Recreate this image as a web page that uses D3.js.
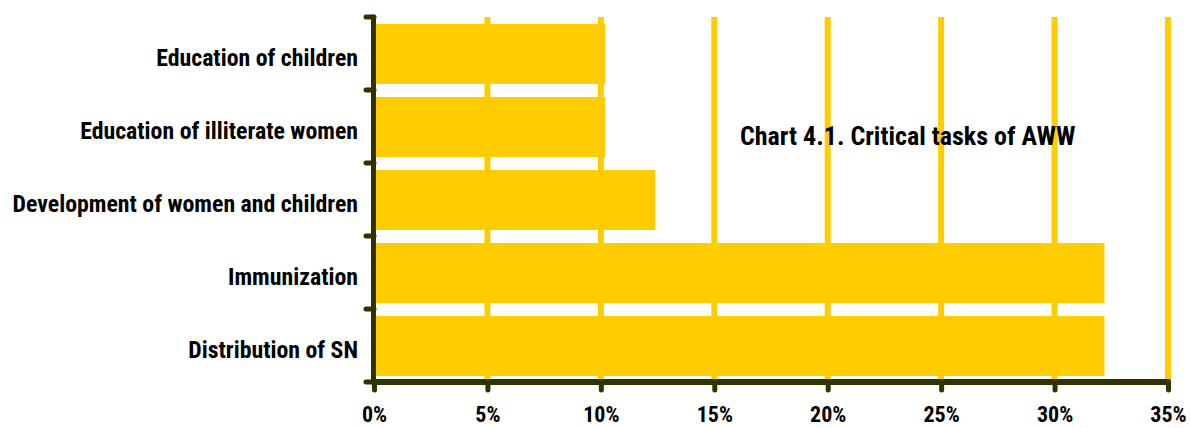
<!DOCTYPE html>
<html><head><meta charset="utf-8">
<script src="https://cdn.jsdelivr.net/npm/d3@7"></script>
<style>body{margin:0;background:#fff}svg{display:block}text{font-family:"Roboto Condensed","Liberation Sans Narrow",sans-serif;font-weight:bold;fill:#000}</style>
</head><body><svg id="c" width="1190" height="428"></svg>
<script>
const categories = ["Education of children","Education of illiterate women","Development of women and children","Immunization","Distribution of SN"];
const values = [10.2, 10.2, 12.4, 32.2, 32.2];
const tickValues = [0,5,10,15,20,25,30,35];
const title = "Chart 4.1. Critical tasks of AWW";

const svg = d3.select("#c");
const x = d3.scaleLinear().domain([0,35]).range([374,1168]);
const yb = d3.scaleBand().domain(categories).range([17,382]);
const axisColor = "#333300", barColor = "#FFCC00";

// gridlines
svg.append("g").selectAll("line").data(tickValues.slice(1)).join("line")
  .attr("x1",d=>x(d)).attr("x2",d=>x(d)).attr("y1",17).attr("y2",382)
  .attr("stroke",barColor).attr("stroke-width",6);

// bars
svg.append("g").selectAll("rect").data(values).join("rect")
  .attr("x",x(0)).attr("y",(d,i)=>yb(categories[i])+7).attr("height",60)
  .attr("width",d=>x(d)-x(0)).attr("fill",barColor);

// axes
const xAxis = d3.axisBottom(x).tickValues(tickValues).tickFormat(d=>d+"%").tickSize(8).tickPadding(0);
const gx = svg.append("g").attr("transform","translate(0,382)").call(xAxis);
gx.select(".domain").remove();
gx.selectAll(".tick line").attr("stroke",axisColor).attr("stroke-width",5).attr("stroke-linecap","round").attr("y1",0).attr("y2",8);
gx.selectAll(".tick text").attr("font-size",22).attr("fill","#000").attr("font-family",null)
  .attr("y",39.5).attr("dy",null);
svg.append("line").attr("x1",x(0)).attr("x2",x(35)).attr("y1",382).attr("y2",382)
  .attr("stroke",axisColor).attr("stroke-width",6).attr("stroke-linecap","round");

const boundaries = categories.map(c=>yb(c)).concat([382]);
svg.append("g").selectAll("line").data(boundaries).join("line")
  .attr("x1",366).attr("x2",374).attr("y1",d=>d).attr("y2",d=>d)
  .attr("stroke",axisColor).attr("stroke-width",5).attr("stroke-linecap","round");
svg.append("line").attr("x1",373.5).attr("x2",373.5).attr("y1",17).attr("y2",382)
  .attr("stroke",axisColor).attr("stroke-width",5).attr("stroke-linecap","round");

svg.append("g").selectAll("text").data(categories).join("text")
  .attr("x",358).attr("y",d=>yb(d)+yb.bandwidth()/2+12.5)
  .attr("text-anchor","end").attr("font-size",23.8).text(d=>d);

svg.append("text").attr("x",740).attr("y",145).attr("font-size",26).text(title);
</script></body></html>
